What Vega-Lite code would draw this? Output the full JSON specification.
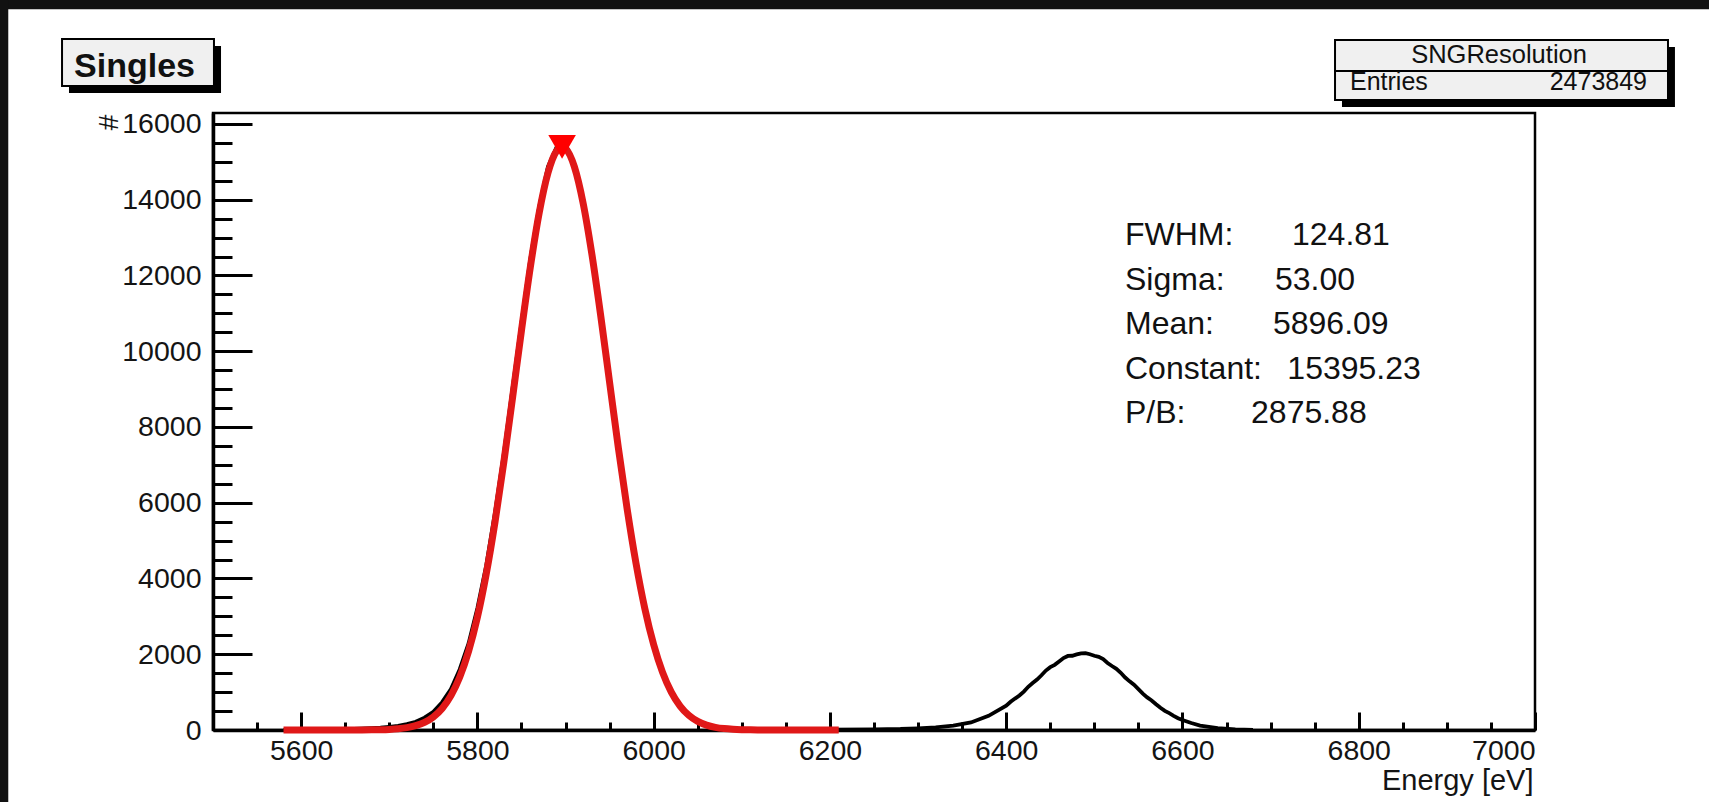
{
  "$schema": "https://vega.github.io/schema/vega-lite/v6.json",
  "width": 1322,
  "height": 617,
  "autosize": {"type": "none"},
  "padding": {"left": 213, "top": 113, "right": 174, "bottom": 72},
  "background": "#ffffff",
  "data": {"values": [{}]},
  "config": {
    "view": {"stroke": "#000000", "strokeWidth": 2.5},
    "font": "Liberation Sans",
    "axis": {"grid": false, "tickColor": "#000000", "domainColor": "#000000", "labelColor": "#141414", "titleColor": "#141414", "labelFont": "Liberation Sans", "titleFont": "Liberation Sans", "titleFontWeight": "normal"}
  },
  "resolve": {"axis": {"x": "independent", "y": "independent"}},
  "layer": [
    {
      "mark": {"type": "rect", "color": "#111111"},
      "encoding": {
        "x": {"datum": 5000, "type": "quantitative", "axis": null},
        "x2": {"datum": 7600},
        "y": {"datum": 19030, "type": "quantitative", "axis": null},
        "y2": {"datum": 21000}
      }
    },
    {
      "mark": {"type": "rect", "color": "#111111"},
      "encoding": {
        "x": {"datum": 5000, "type": "quantitative", "axis": null},
        "x2": {"datum": 5267.7},
        "y": {"datum": -3000, "type": "quantitative", "axis": null},
        "y2": {"datum": 21000}
      }
    },
    {
      "mark": {"type": "rect", "color": "#000000"},
      "encoding": {
        "x": {"datum": 5336.6, "type": "quantitative", "axis": null},
        "x2": {"datum": 5509.1},
        "y": {"datum": 18059, "type": "quantitative", "axis": null},
        "y2": {"datum": 16818}
      }
    },
    {
      "mark": {"type": "rect", "fill": "#f0f0f0", "stroke": "#000000", "strokeWidth": 2},
      "encoding": {
        "x": {"datum": 5328.7, "type": "quantitative", "axis": null},
        "x2": {"datum": 5501.1},
        "y": {"datum": 18244, "type": "quantitative", "axis": null},
        "y2": {"datum": 17003}
      }
    },
    {
      "mark": {"type": "text", "font": "Liberation Sans", "fontWeight": "bold", "fontSize": 34, "align": "center", "baseline": "alphabetic", "color": "#111111"},
      "encoding": {
        "x": {"datum": 5411, "type": "quantitative", "axis": null},
        "y": {"datum": 17240, "type": "quantitative", "axis": null},
        "text": {"value": "Singles"}
      }
    },
    {
      "mark": {"type": "rect", "color": "#000000"},
      "encoding": {
        "x": {"datum": 6781, "type": "quantitative", "axis": null},
        "x2": {"datum": 7158.8},
        "y": {"datum": 18032, "type": "quantitative", "axis": null},
        "y2": {"datum": 16448}
      }
    },
    {
      "mark": {"type": "rect", "fill": "#f0f0f0", "stroke": "#000000", "strokeWidth": 2},
      "encoding": {
        "x": {"datum": 6773.1, "type": "quantitative", "axis": null},
        "x2": {"datum": 7150.9},
        "y": {"datum": 18217, "type": "quantitative", "axis": null},
        "y2": {"datum": 17399}
      }
    },
    {
      "mark": {"type": "rect", "fill": "#f0f0f0", "stroke": "#000000", "strokeWidth": 2},
      "encoding": {
        "x": {"datum": 6773.1, "type": "quantitative", "axis": null},
        "x2": {"datum": 7150.9},
        "y": {"datum": 17399, "type": "quantitative", "axis": null},
        "y2": {"datum": 16633}
      }
    },
    {
      "mark": {"type": "text", "font": "Liberation Sans", "fontSize": 25.5, "align": "center", "baseline": "alphabetic", "color": "#111111"},
      "encoding": {
        "x": {"datum": 6959.2, "type": "quantitative", "axis": null},
        "y": {"datum": 17597, "type": "quantitative", "axis": null},
        "text": {"value": "SNGResolution"}
      }
    },
    {
      "mark": {"type": "text", "font": "Liberation Sans", "fontSize": 25, "align": "left", "baseline": "alphabetic", "color": "#111111"},
      "encoding": {
        "x": {"datum": 6790.1, "type": "quantitative", "axis": null},
        "y": {"datum": 16897, "type": "quantitative", "axis": null},
        "text": {"value": "Entries"}
      }
    },
    {
      "mark": {"type": "text", "font": "Liberation Sans", "fontSize": 25, "align": "right", "baseline": "alphabetic", "color": "#111111"},
      "encoding": {
        "x": {"datum": 7127.1, "type": "quantitative", "axis": null},
        "y": {"datum": 16897, "type": "quantitative", "axis": null},
        "text": {"value": "2473849"}
      }
    },
    {
      "data": {"values": [
        {"e": 5580, "n": 5}, {"e": 5600, "n": 10}, {"e": 5620, "n": 14}, {"e": 5640, "n": 23}, {"e": 5660, "n": 30},
        {"e": 5680, "n": 50}, {"e": 5690, "n": 62}, {"e": 5700, "n": 83}, {"e": 5710, "n": 107}, {"e": 5720, "n": 155},
        {"e": 5730, "n": 216}, {"e": 5740, "n": 325}, {"e": 5750, "n": 480}, {"e": 5760, "n": 735}, {"e": 5770, "n": 1080},
        {"e": 5780, "n": 1605}, {"e": 5790, "n": 2285}, {"e": 5800, "n": 3215}, {"e": 5810, "n": 4340}, {"e": 5820, "n": 5745},
        {"e": 5830, "n": 7300}, {"e": 5840, "n": 9040}, {"e": 5850, "n": 10750}, {"e": 5860, "n": 12430}, {"e": 5870, "n": 13800},
        {"e": 5880, "n": 14870}, {"e": 5890, "n": 15400}, {"e": 5900, "n": 15470}, {"e": 5910, "n": 14940}, {"e": 5920, "n": 13980},
        {"e": 5930, "n": 12580}, {"e": 5940, "n": 10980}, {"e": 5950, "n": 9200}, {"e": 5960, "n": 7490}, {"e": 5970, "n": 5840},
        {"e": 5980, "n": 4430}, {"e": 5990, "n": 3215}, {"e": 6000, "n": 2280}, {"e": 6010, "n": 1540}, {"e": 6020, "n": 1025},
        {"e": 6030, "n": 645}, {"e": 6040, "n": 405}, {"e": 6050, "n": 240}, {"e": 6060, "n": 145}, {"e": 6070, "n": 82},
        {"e": 6080, "n": 50}, {"e": 6090, "n": 30}, {"e": 6100, "n": 22}, {"e": 6120, "n": 13}, {"e": 6150, "n": 10},
        {"e": 6200, "n": 12}, {"e": 6250, "n": 16}, {"e": 6280, "n": 27}, {"e": 6300, "n": 45}, {"e": 6320, "n": 68},
        {"e": 6340, "n": 116}, {"e": 6360, "n": 200}, {"e": 6380, "n": 375}, {"e": 6400, "n": 640}, {"e": 6405, "n": 745},
        {"e": 6410, "n": 830}, {"e": 6415, "n": 910}, {"e": 6420, "n": 1015}, {"e": 6425, "n": 1140}, {"e": 6430, "n": 1240},
        {"e": 6435, "n": 1330}, {"e": 6440, "n": 1445}, {"e": 6445, "n": 1570}, {"e": 6450, "n": 1660}, {"e": 6455, "n": 1720},
        {"e": 6460, "n": 1810}, {"e": 6465, "n": 1900}, {"e": 6470, "n": 1955}, {"e": 6475, "n": 1960}, {"e": 6480, "n": 1995},
        {"e": 6485, "n": 2025}, {"e": 6490, "n": 2030}, {"e": 6495, "n": 2000}, {"e": 6500, "n": 1960}, {"e": 6505, "n": 1930},
        {"e": 6510, "n": 1870}, {"e": 6515, "n": 1770}, {"e": 6520, "n": 1690}, {"e": 6525, "n": 1615}, {"e": 6530, "n": 1510},
        {"e": 6535, "n": 1385}, {"e": 6540, "n": 1285}, {"e": 6545, "n": 1195}, {"e": 6550, "n": 1080}, {"e": 6555, "n": 960},
        {"e": 6560, "n": 860}, {"e": 6565, "n": 780}, {"e": 6570, "n": 680}, {"e": 6575, "n": 585}, {"e": 6580, "n": 505},
        {"e": 6585, "n": 445}, {"e": 6590, "n": 375}, {"e": 6595, "n": 312}, {"e": 6600, "n": 262}, {"e": 6610, "n": 185},
        {"e": 6620, "n": 118}, {"e": 6640, "n": 50}, {"e": 6660, "n": 18}, {"e": 6680, "n": 5}
      ]},
      "mark": {"type": "line", "color": "#000000", "strokeWidth": 3.8},
      "encoding": {
        "x": {"field": "e", "type": "quantitative",
              "scale": {"domain": [5500, 7000], "nice": false, "zero": false},
              "axis": {"orient": "bottom", "values": [5550, 5600, 5650, 5700, 5750, 5800, 5850, 5900, 5950, 6000, 6050, 6100, 6150, 6200, 6250, 6300, 6350, 6400, 6450, 6500, 6550, 6600, 6650, 6700, 6750, 6800, 6850, 6900, 6950],
                       "labels": false, "domain": false, "tickSize": -8, "tickWidth": 3, "title": null}},
        "y": {"field": "n", "type": "quantitative",
              "scale": {"domain": [0, 16290], "nice": false, "zero": false},
              "axis": {"orient": "left", "values": [500, 1000, 1500, 2000, 2500, 3000, 3500, 4000, 4500, 5000, 5500, 6000, 6500, 7000, 7500, 8000, 8500, 9000, 9500, 10000, 10500, 11000, 11500, 12000, 12500, 13000, 13500, 14000, 14500, 15000, 15500, 16000],
                       "labels": false, "domain": false, "tickSize": -19, "tickWidth": 3, "title": null}}
      }
    },
    {
      "data": {"values": [
        {"e": 5580, "f": 0}, {"e": 5600, "f": 0}, {"e": 5620, "f": 0}, {"e": 5640, "f": 0}, {"e": 5660, "f": 1},
        {"e": 5680, "f": 4}, {"e": 5690, "f": 8}, {"e": 5700, "f": 16}, {"e": 5710, "f": 32}, {"e": 5720, "f": 62},
        {"e": 5730, "f": 114}, {"e": 5740, "f": 201}, {"e": 5750, "f": 345}, {"e": 5760, "f": 570}, {"e": 5770, "f": 908},
        {"e": 5780, "f": 1398}, {"e": 5790, "f": 2077}, {"e": 5800, "f": 2976}, {"e": 5810, "f": 4115}, {"e": 5820, "f": 5493},
        {"e": 5830, "f": 7075}, {"e": 5840, "f": 8794}, {"e": 5850, "f": 10547}, {"e": 5860, "f": 12210}, {"e": 5870, "f": 13639},
        {"e": 5880, "f": 14702}, {"e": 5890, "f": 15294}, {"e": 5896.09, "f": 15395}, {"e": 5900, "f": 15353}, {"e": 5910, "f": 14874},
        {"e": 5920, "f": 13905}, {"e": 5930, "f": 12546}, {"e": 5940, "f": 10923}, {"e": 5950, "f": 9178}, {"e": 5960, "f": 7441},
        {"e": 5970, "f": 5822}, {"e": 5980, "f": 4396}, {"e": 5990, "f": 3203}, {"e": 6000, "f": 2253}, {"e": 6010, "f": 1528},
        {"e": 6020, "f": 1001}, {"e": 6030, "f": 633}, {"e": 6040, "f": 386}, {"e": 6050, "f": 227}, {"e": 6060, "f": 129},
        {"e": 6070, "f": 71}, {"e": 6080, "f": 37}, {"e": 6090, "f": 19}, {"e": 6100, "f": 9}, {"e": 6110, "f": 4},
        {"e": 6120, "f": 2}, {"e": 6140, "f": 0}, {"e": 6210, "f": 0}
      ]},
      "mark": {"type": "line", "color": "#e01818", "strokeWidth": 7, "interpolate": "monotone"},
      "encoding": {
        "x": {"field": "e", "type": "quantitative",
              "scale": {"domain": [5500, 7000], "nice": false, "zero": false},
              "axis": {"orient": "bottom", "values": [5600, 5800, 6000, 6200, 6400, 6600, 6800, 7000],
                       "labels": false, "domain": true, "domainWidth": 3.5, "tickSize": -18, "tickWidth": 3, "title": null}},
        "y": {"field": "f", "type": "quantitative",
              "scale": {"domain": [0, 16290], "nice": false, "zero": false},
              "axis": {"orient": "left", "values": [0, 2000, 4000, 6000, 8000, 10000, 12000, 14000, 16000],
                       "labels": false, "domain": true, "domainWidth": 3.5, "tickSize": -39, "tickWidth": 3, "title": null}}
      }
    },
    {
      "data": {"values": [{"e": 5896.09, "peak": 15395.23}]},
      "mark": {"type": "point", "shape": "triangle-down", "filled": true, "color": "#ff0000", "size": 760, "opacity": 1},
      "encoding": {
        "x": {"field": "e", "type": "quantitative",
              "scale": {"domain": [5500, 7000], "nice": false, "zero": false},
              "axis": {"orient": "bottom", "values": [5600, 5800, 6000, 6200, 6400, 6600, 6800, 7000], "format": "d",
                       "ticks": false, "domain": false, "labelPadding": 29, "labelBaseline": "alphabetic", "labelFontSize": 28.5, "labelAngle": 0,
                       "title": "Energy [eV]", "titleFontSize": 29, "titleAlign": "right", "titleBaseline": "alphabetic", "titleAnchor": "end", "titleX": 1320, "titleY": 59}},
        "y": {"field": "peak", "type": "quantitative",
              "scale": {"domain": [0, 16290], "nice": false, "zero": false},
              "axis": {"orient": "left", "values": [0, 2000, 4000, 6000, 8000, 10000, 12000, 14000, 16000], "format": "d",
                       "ticks": false, "domain": false, "labelPadding": 12, "labelFontSize": 28.5, "labelBaseline": "middle",
                       "title": "#", "titleFontSize": 28, "titleAngle": -90, "titleAlign": "center", "titleBaseline": "middle", "titleX": -104, "titleY": 9}}
      }
    },
    {
      "mark": {"type": "text", "font": "Liberation Sans", "fontSize": 32, "align": "left", "baseline": "alphabetic", "color": "#111111"},
      "encoding": {
        "x": {"datum": 6534.8, "type": "quantitative", "axis": null},
        "y": {"datum": 12805, "type": "quantitative", "axis": null},
        "text": {"value": "FWHM:"}
      }
    },
    {
      "mark": {"type": "text", "font": "Liberation Sans", "fontSize": 32, "align": "left", "baseline": "alphabetic", "color": "#111111"},
      "encoding": {
        "x": {"datum": 6724.3, "type": "quantitative", "axis": null},
        "y": {"datum": 12805, "type": "quantitative", "axis": null},
        "text": {"value": "124.81"}
      }
    },
    {
      "mark": {"type": "text", "font": "Liberation Sans", "fontSize": 32, "align": "left", "baseline": "alphabetic", "color": "#111111"},
      "encoding": {
        "x": {"datum": 6534.8, "type": "quantitative", "axis": null},
        "y": {"datum": 11617, "type": "quantitative", "axis": null},
        "text": {"value": "Sigma:"}
      }
    },
    {
      "mark": {"type": "text", "font": "Liberation Sans", "fontSize": 32, "align": "left", "baseline": "alphabetic", "color": "#111111"},
      "encoding": {
        "x": {"datum": 6705.0, "type": "quantitative", "axis": null},
        "y": {"datum": 11617, "type": "quantitative", "axis": null},
        "text": {"value": "53.00"}
      }
    },
    {
      "mark": {"type": "text", "font": "Liberation Sans", "fontSize": 32, "align": "left", "baseline": "alphabetic", "color": "#111111"},
      "encoding": {
        "x": {"datum": 6534.8, "type": "quantitative", "axis": null},
        "y": {"datum": 10455, "type": "quantitative", "axis": null},
        "text": {"value": "Mean:"}
      }
    },
    {
      "mark": {"type": "text", "font": "Liberation Sans", "fontSize": 32, "align": "left", "baseline": "alphabetic", "color": "#111111"},
      "encoding": {
        "x": {"datum": 6702.7, "type": "quantitative", "axis": null},
        "y": {"datum": 10455, "type": "quantitative", "axis": null},
        "text": {"value": "5896.09"}
      }
    },
    {
      "mark": {"type": "text", "font": "Liberation Sans", "fontSize": 32, "align": "left", "baseline": "alphabetic", "color": "#111111"},
      "encoding": {
        "x": {"datum": 6534.8, "type": "quantitative", "axis": null},
        "y": {"datum": 9280, "type": "quantitative", "axis": null},
        "text": {"value": "Constant:"}
      }
    },
    {
      "mark": {"type": "text", "font": "Liberation Sans", "fontSize": 32, "align": "left", "baseline": "alphabetic", "color": "#111111"},
      "encoding": {
        "x": {"datum": 6719.0, "type": "quantitative", "axis": null},
        "y": {"datum": 9280, "type": "quantitative", "axis": null},
        "text": {"value": "15395.23"}
      }
    },
    {
      "mark": {"type": "text", "font": "Liberation Sans", "fontSize": 32, "align": "left", "baseline": "alphabetic", "color": "#111111"},
      "encoding": {
        "x": {"datum": 6534.8, "type": "quantitative", "axis": null},
        "y": {"datum": 8105, "type": "quantitative", "axis": null},
        "text": {"value": "P/B:"}
      }
    },
    {
      "mark": {"type": "text", "font": "Liberation Sans", "fontSize": 32, "align": "left", "baseline": "alphabetic", "color": "#111111"},
      "encoding": {
        "x": {"datum": 6677.8, "type": "quantitative", "axis": null},
        "y": {"datum": 8105, "type": "quantitative", "axis": null},
        "text": {"value": "2875.88"}
      }
    }
  ]
}
